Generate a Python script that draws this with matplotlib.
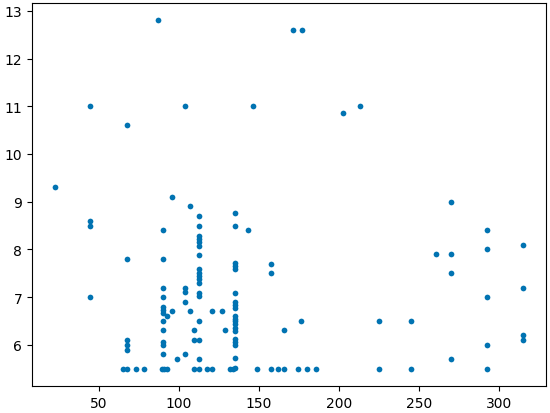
import matplotlib
matplotlib.use("Agg")
import matplotlib.pyplot as plt

# (x, list of y values)
x_vals = [22.7, 44.6, 44.6, 44.6, 44.6, 65.0,
          67.3, 67.3, 67.3, 67.3, 67.3, 67.3, 73.4, 78.4, 87.0]
y_vals = [9.3, 11.0, 8.6, 8.5, 7.0, 5.5,
          10.6, 7.8, 6.1, 6.0, 5.9, 5.5, 5.5, 5.5, 12.8]

col90_x = [90.1] * 12 + [89.1, 90.7]
col90_y = [8.4, 7.8, 7.2, 7.0, 6.8, 6.72, 6.66, 6.5, 6.3, 6.05, 6.0, 5.8, 5.5, 5.5]

mid_x = [92.6, 92.6, 95.3, 95.3, 98.5, 103.7, 103.7, 103.7, 103.7, 103.7,
         106.8, 106.8, 109.3, 109.3, 109.3]
mid_y = [6.6, 5.5, 9.1, 6.7, 5.7, 11.0, 7.2, 7.1, 6.9, 5.8,
         8.9, 6.7, 6.3, 6.1, 5.5]

col112_y = [8.69, 8.49, 8.29, 8.22, 8.15, 8.08, 7.89, 7.58, 7.51, 7.44,
            7.37, 7.30, 7.09, 7.02, 6.5, 6.1, 5.7, 5.5]
col112_x = [112.2] * len(col112_y)

b_x = [117.3, 120.4, 120.4, 126.6, 128.9, 131.8, 133.9]
b_y = [5.5, 5.5, 6.7, 6.7, 6.3, 5.5, 5.5]

col135_y = [8.77, 8.49, 7.72, 7.65, 7.58, 7.09, 6.9, 6.83, 6.78, 6.6,
            6.55, 6.5, 6.43, 6.36, 6.29, 6.12, 6.06, 5.99, 5.72, 5.51]
col135_x = [135.0] * len(col135_y)

r_x = [143.3, 146.0, 149.0, 157.5, 157.5, 157.5, 161.7, 165.8, 165.8,
       171.1, 174.3, 176.0, 177.1, 179.7, 185.3, 202.4, 213.2,
       225.1, 225.1, 245.2, 245.2, 260.6, 269.8, 269.8, 269.8, 269.8,
       292.6, 292.6, 292.6, 292.6, 292.6, 314.7, 314.7, 314.7, 314.7]
r_y = [8.4, 11.0, 5.5, 7.7, 7.5, 5.5, 5.5, 6.3, 5.5,
       12.6, 5.5, 6.5, 12.6, 5.5, 5.5, 10.85, 11.0,
       6.5, 5.5, 6.5, 5.5, 7.9, 9.0, 7.9, 7.5, 5.7,
       8.4, 8.0, 7.0, 6.0, 5.5, 8.1, 7.2, 6.2, 6.1]

xs = x_vals + col90_x + mid_x + col112_x + b_x + col135_x + r_x
ys = y_vals + col90_y + mid_y + col112_y + b_y + col135_y + r_y

fig = plt.figure(figsize=(5.5, 4.14), dpi=100)
ax = fig.add_axes([32 / 550, 27 / 414, 514 / 550, 383 / 414])
ax.scatter(xs, ys, s=17, color="#0173b2", linewidths=0)
ax.set_yticks([6, 7, 8, 9, 10, 11, 12, 13])
ax.set_xticks([50, 100, 150, 200, 250, 300])
fig.savefig("out.png", dpi=100)
